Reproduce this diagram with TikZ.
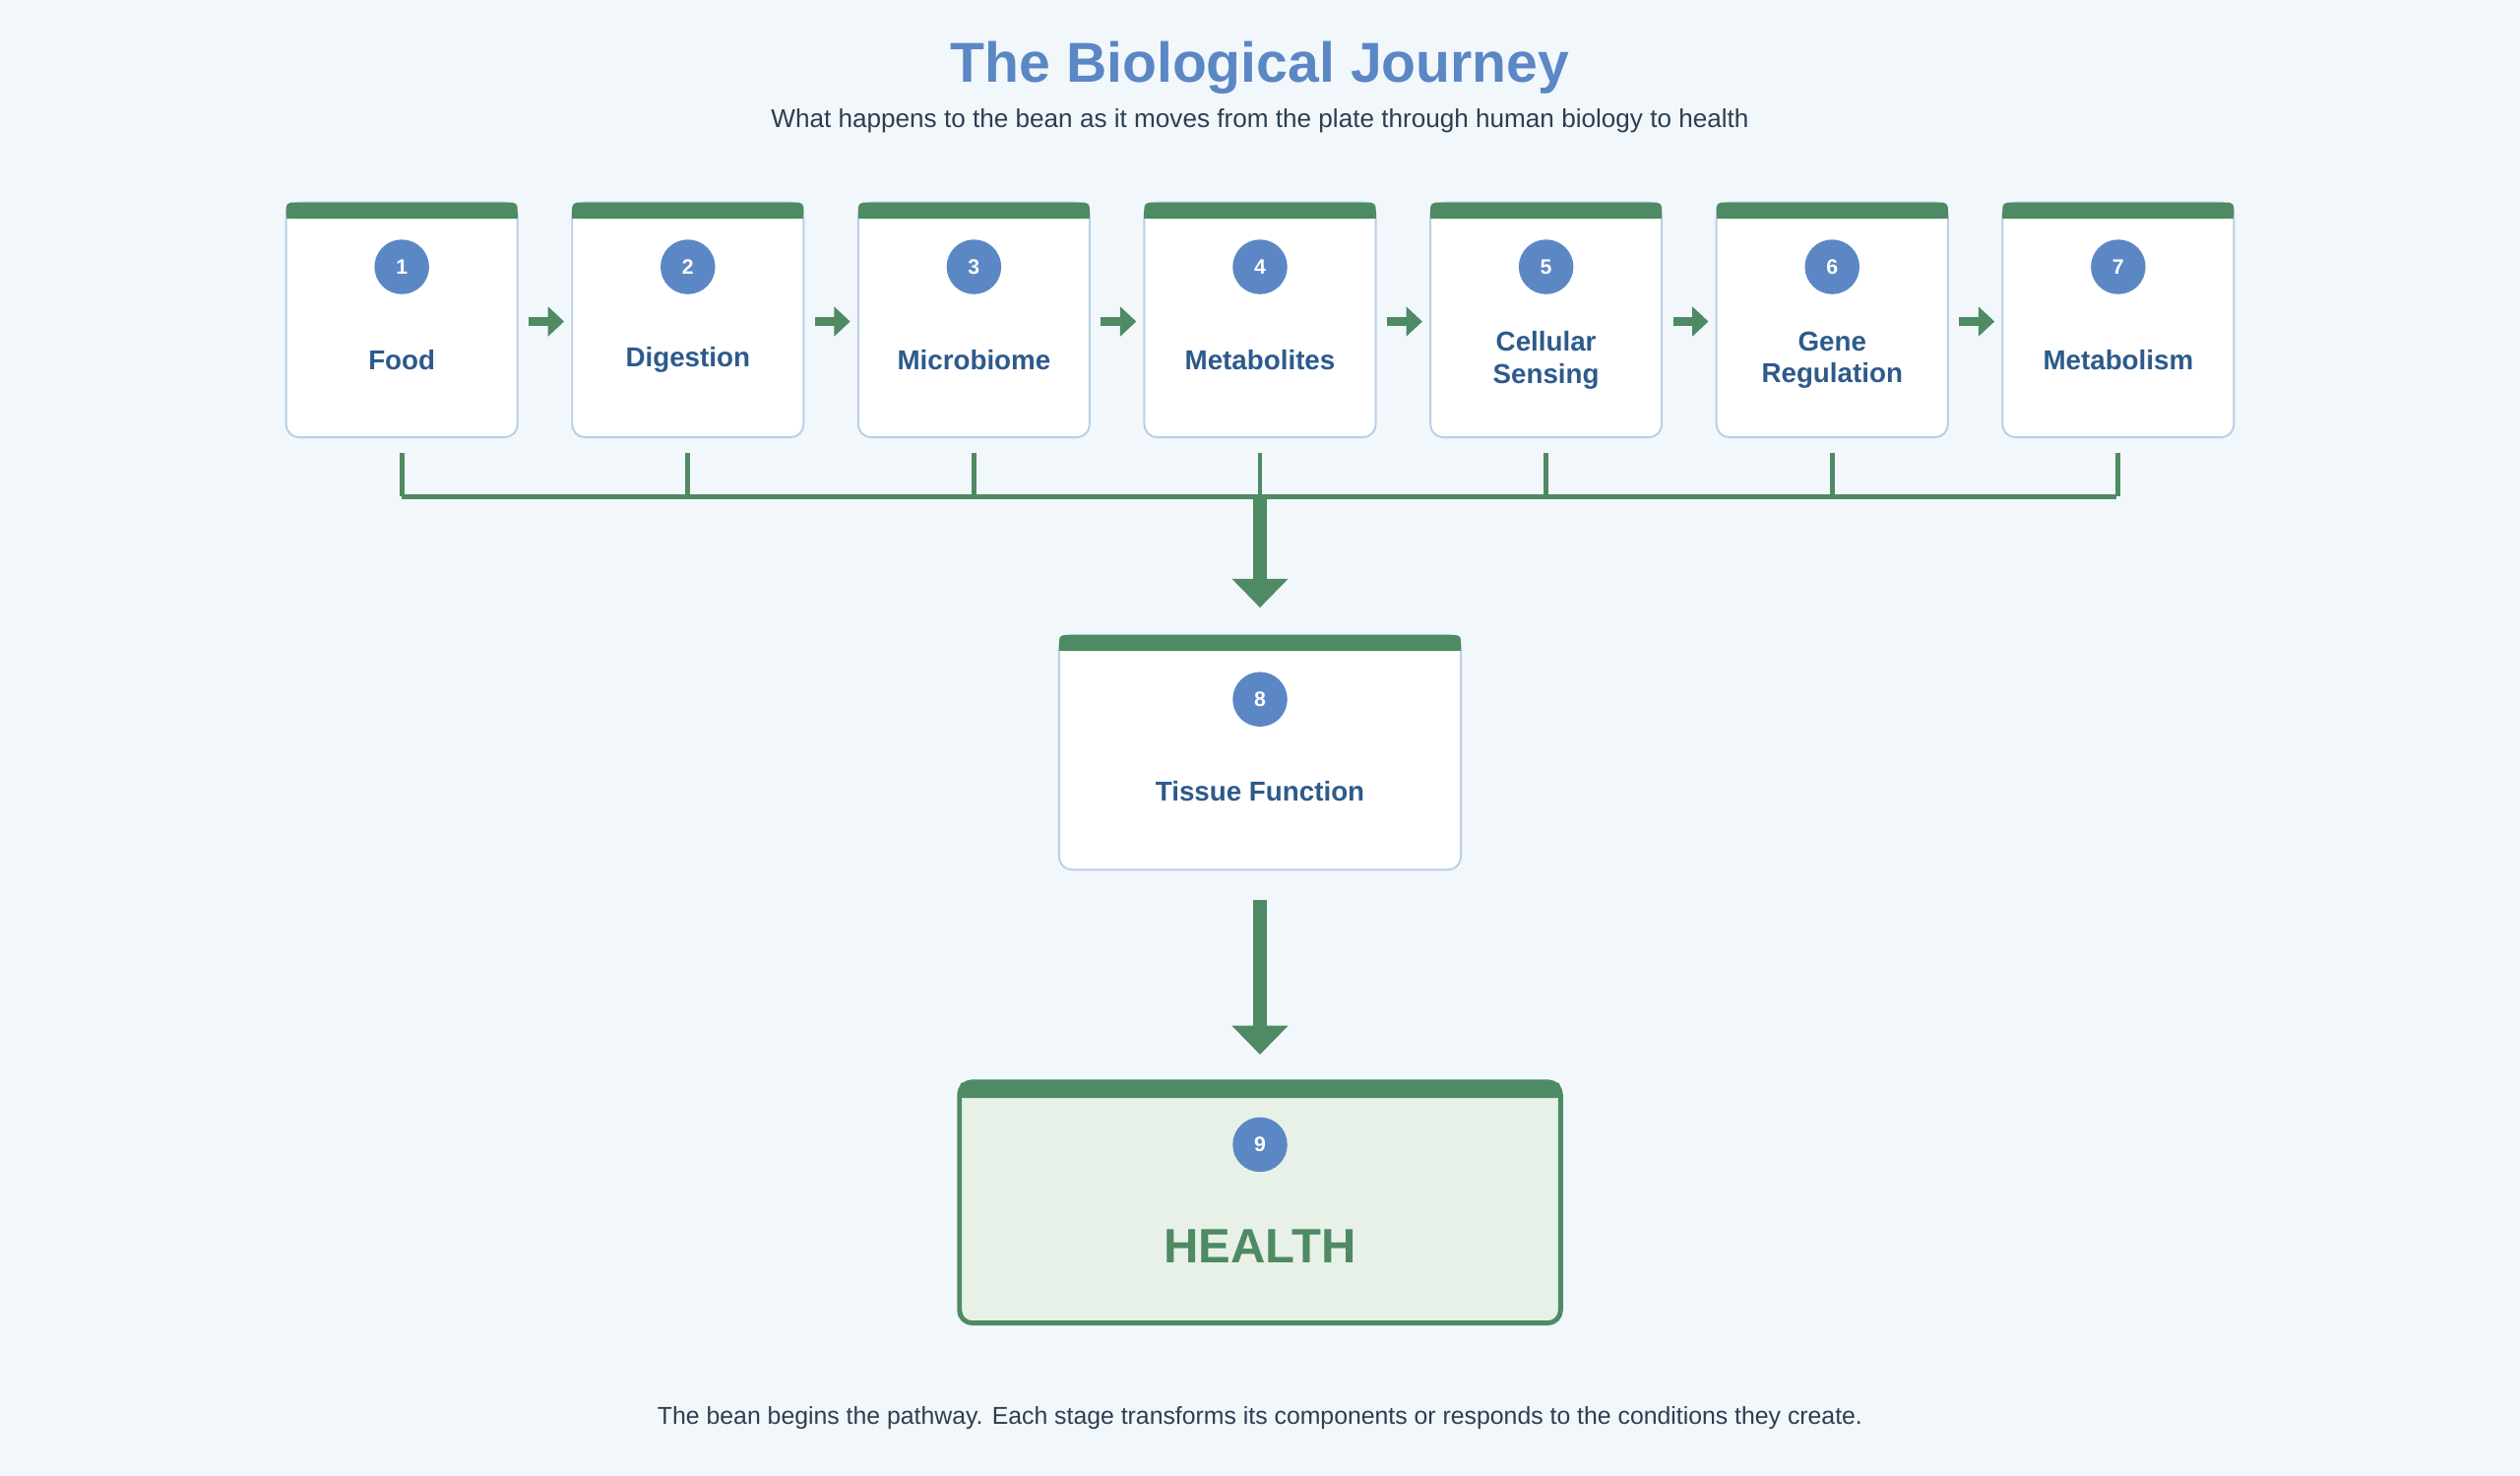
\documentclass[tikz,border=0pt]{standalone}
\usepackage{fontspec}
\setmainfont{Liberation Sans}
\usetikzlibrary{arrows.meta}
\definecolor{bg}{HTML}{F2F7FB}
\definecolor{gr}{HTML}{4E8A63}
\definecolor{bl}{HTML}{5B87C5}
\definecolor{dk}{HTML}{2D5A8C}
\definecolor{bd}{HTML}{B8CFE6}
\definecolor{txt}{HTML}{2D3E50}
\definecolor{hf}{HTML}{E8F1E8}
\begin{document}
\begin{tikzpicture}[x=1pt,y=-1pt,
  box/.style={draw=bd,line width=1.2pt,fill=white,rounded corners=8pt},
  num/.style={circle,fill=bl,minimum size=34pt,inner sep=0pt,text=white,font=\bfseries\fontsize{13}{13}\selectfont},
  lab/.style={text=dk,font=\bfseries\fontsize{17}{20}\selectfont,align=center},
  small/.style={-{Triangle[length=10pt,width=18pt]},gr,line width=6pt},
  big/.style={-{Triangle[length=18pt,width=34pt]},gr,line width=9pt},
  tick/.style={gr,line width=3pt}]
\fill[bg] (0,0) rectangle (1568,918);
\useasboundingbox (0,0) rectangle (1568,918);
\node[text=bl,font=\bfseries\fontsize{35}{37}\selectfont] (title) at (784,42) {The Biological Journey};
\node[text=txt,font=\fontsize{16}{18}\selectfont] (sub) at (784,75) {What happens to the bean as it moves from the plate through human biology to health};
\foreach \i/\t in {1/Food,2/Digestion,3/Microbiome,4/Metabolites,5/{Cellular\\Sensing},6/{Gene\\Regulation},7/Metabolism}{
  \pgfmathsetmacro{\cx}{250+178*(\i-1)}
  \draw[box] (\cx-72,126) rectangle (\cx+72,272);
  \fill[gr,rounded corners=3pt] (\cx-72,126) rectangle (\cx+72,136);
  \fill[gr] (\cx-72,131) rectangle (\cx+72,136);
  \node[num] (n\i) at (\cx,166) {\i};
  \node[lab] (l\i) at (\cx,224) {\t};
  \coordinate (t\i) at (\cx,282);
  \coordinate (b\i) at (\cx,309);
  \draw[tick] (t\i) -- (b\i);
}
\foreach \i in {1,...,6}{
  \pgfmathsetmacro{\ax}{250+178*(\i-1)+79}
  \coordinate (as\i) at (\ax,200);
  \coordinate (ae\i) at (\ax+22,200);
  \draw[small] (as\i) -- (ae\i);
}
\draw[tick] (250,309) -- (1317,309);
\coordinate (h) at (784,309);
\coordinate (he) at (784,378);
\draw[big] (h) -- (he);
% box 8
\draw[box] (659,395) rectangle (909,541);
\fill[gr,rounded corners=3pt] (659,395) rectangle (909,405);
\fill[gr] (659,400) rectangle (909,405);
\node[num] (n8) at (784,435) {8};
\node[lab] (l8) at (784,492) {Tissue Function};
\coordinate (s2) at (784,560);
\coordinate (e2) at (784,656);
\draw[big] (s2) -- (e2);
% box 9
\draw[gr,line width=3pt,fill=hf,rounded corners=8pt] (597,673) rectangle (971,823);
\fill[gr,rounded corners=3pt] (597,673) rectangle (971,683);
\fill[gr] (597,678) rectangle (971,683);
\node[num] (n9) at (784,712) {9};
\node[text=gr,font=\bfseries\fontsize{30}{32}\selectfont] (l9) at (784,775) {HEALTH};
\node[text=txt,font=\fontsize{15.2}{17}\selectfont] (foot) at (784,882) {The bean begins the pathway. Each stage transforms its components or responds to the conditions they create.};
\end{tikzpicture}
\end{document}
